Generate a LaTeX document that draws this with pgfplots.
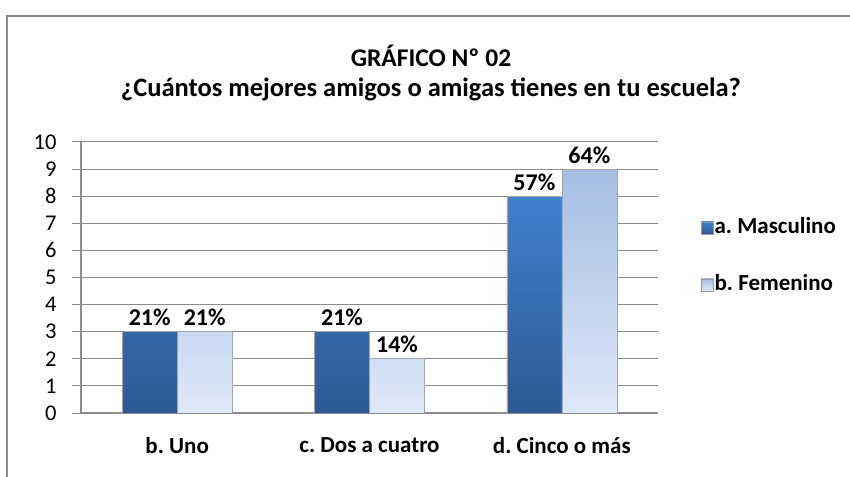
\documentclass[border=0pt]{standalone}
\usepackage{pgfplots}
\pgfplotsset{compat=1.18}
\usepackage{fontspec}
\setmainfont{Carlito}
\frenchspacing
\definecolor{masT}{HTML}{4180CC}
\definecolor{masB}{HTML}{2C5996}
\definecolor{femT}{HTML}{A6BDE4}
\definecolor{femB}{HTML}{DDE8F8}
\definecolor{gridc}{HTML}{8C8C8C}
\begin{document}
\begin{tikzpicture}
\path[use as bounding box] (0,0) rectangle (850bp,477bp);
\draw[gridc, line width=1.2bp] (7bp,0) -- (7bp,461bp) -- (850bp,461bp);
\node[font=\fontsize{25.5bp}{30bp}\selectfont\bfseries, anchor=base] at (431bp,410bp) {GRÁFICO Nº 02};
\node[font=\fontsize{26.5bp}{30bp}\selectfont\bfseries, anchor=base] at (431bp,380bp) {¿Cuántos mejores amigos o amigas tienes en tu escuela?};
\begin{axis}[
  at={(81bp,64bp)}, anchor=south west,
  scale only axis, width=577bp, height=271bp,
  xmin=-0.5, xmax=2.5, ymin=0, ymax=10,
  ytick={0,1,...,10},
  xtick={0,1,2},
  xticklabels={b. Uno, c. Dos a cuatro, d. Cinco o más},
  x tick label style={font=\fontsize{23bp}{26bp}\selectfont\bfseries, yshift=-12bp},
  y tick label style={font=\fontsize{22.5bp}{26bp}\selectfont, xshift=-12bp},
  /pgf/number format/assume math mode=true,
  major x tick style={draw=none},
  extra x ticks={-0.5,0.5,1.5,2.5},
  extra x tick labels={},
  extra x tick style={major tick length=9bp, tick align=outside, tick style={draw=gridc, line width=1bp}},
  y tick style={draw=gridc, line width=1bp},
  major tick length=9bp, tick align=outside,
  axis lines*=left,
  axis line style={draw=gridc, line width=1.2bp},
  ymajorgrids, grid style={draw=gridc, line width=1bp},
  ybar, bar width=0.286, 
  nodes near coords, point meta=explicit symbolic,
  every node near coord/.append style={font=\fontsize{24bp}{28bp}\selectfont\bfseries, anchor=south, yshift=2bp},
  legend style={at={(1.069,0.578)}, anchor=west, draw=none, fill=none,
    font=\fontsize{23bp}{26bp}\selectfont\bfseries,
    row sep=34bp,
    nodes={text height=16bp, text depth=5bp, inner sep=1bp}},
  legend cell align=left,
]
\addplot[bar shift=-0.143, draw=gray!70, line width=0.6bp, top color=masT, bottom color=masB,
  legend image code/.code={\path[draw=gray!80, top color=masT, bottom color=masB] (0bp,-6bp) rectangle (12bp,6bp);}]
  table[meta=l] {
x y l
0 3 21\%
1 3 21\%
2 8 57\%
};
\addlegendentry{a. Masculino}
\addplot[bar shift=0.143, draw=gray!70, line width=0.6bp, top color=femT, bottom color=femB,
  legend image code/.code={\path[draw=gray!80, top color=femT, bottom color=femB] (0bp,-6bp) rectangle (12bp,6bp);}]
  table[meta=l] {
x y l
0 3 21\%
1 2 14\%
2 9 64\%
};
\addlegendentry{b. Femenino}
\end{axis}
\end{tikzpicture}
\end{document}
